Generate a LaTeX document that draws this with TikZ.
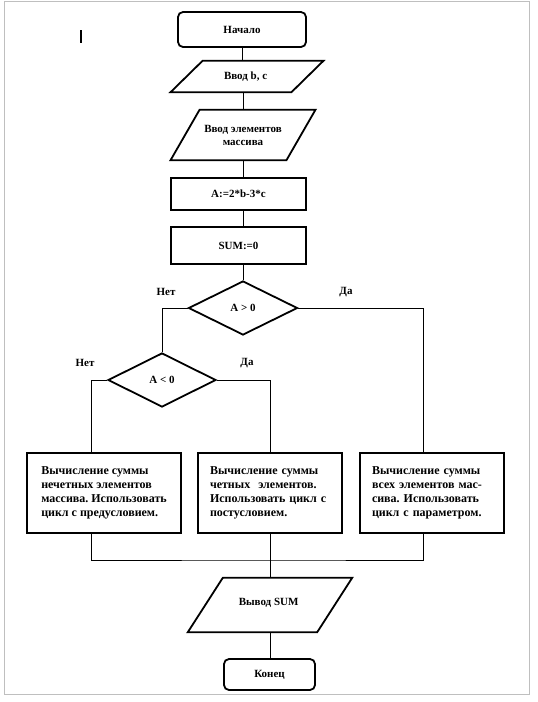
\documentclass[tikz,border=0pt]{standalone}
\usepackage{fontspec}
\setmainfont{Liberation Serif}
\usetikzlibrary{shapes.geometric}

\tikzset{
    lbl/.style={font=\fontsize{11}{13}\selectfont\bfseries, inner sep=0},
    term/.style={lbl, draw, line width=1.8pt, rounded corners=5pt},
    io/.style={lbl, rectangle, align=center},
    proc/.style={lbl, draw, line width=1.8pt, rectangle},
    cond/.style={lbl, draw, line width=1.8pt, diamond},
    calcbox/.style={draw, line width=1.8pt, rectangle, inner sep=0, align=left,
        font=\fontsize{12}{14}\selectfont\bfseries\frenchspacing},
    flow/.style={line width=0.9pt}
}

% parallelogram round an io node: #1 node, #2 half of the slant
\newcommand{\slantbox}[2]{\draw[line width=1.8pt] ([xshift=#2]#1.north west) -- ([xshift=#2]#1.north east)
    -- ([xshift=-#2]#1.south east) -- ([xshift=-#2]#1.south west) -- cycle;}

\begin{document}
\begin{tikzpicture}[x=1pt,y=-1pt]
        \useasboundingbox (0,0) rectangle (538,702);
        \draw[gray!50] (4,1) rectangle (529,694);
        \draw[line width=2.4pt] (81,30) -- (81,43);

        \node[term, minimum width=128pt, minimum height=35pt] (start) at (242, 29.5) { \raisebox{-2pt}{Начало} };
        \node[io, minimum width=120.5pt, minimum height=31pt] (inbc) at (247, 76.5) { Ввод b, c };
        \node[io, minimum width=115.5pt, minimum height=50pt] (inarr) at (243, 135) { Ввод элементов\\массива };
        \node[proc, minimum width=135pt, minimum height=32pt] (asgA) at (238.5, 194) { \raisebox{-2pt}{A:=2*b-3*c} };
        \node[proc, minimum width=135pt, minimum height=37pt] (asgS) at (238.5, 245.5) { SUM:=0 };
        \slantbox{inbc}{16pt}
        \slantbox{inarr}{14.5pt}

        \node[cond, minimum width=109pt, minimum height=54pt] (ifpos) at (243, 308) { A > 0 };
        \node[cond, minimum width=108pt, minimum height=54pt] (ifneg) at (162, 380) { A < 0 };

        \node[lbl] (nopos) at (166, 292) { Нет };
        \node[lbl] (yespos) at (346, 292) { Да };
        \node[lbl] (noneg) at (85, 363) { Нет };
        \node[lbl] (yesneg) at (247, 363) { Да };

        \node[calcbox, minimum width=154pt, minimum height=80pt] (sumodd) at (104, 493) { Вычисление суммы\\нечетных элементов\\массива. Использовать\\цикл с предусловием. };
        \node[calcbox, minimum width=144pt, minimum height=80pt, text width=120pt] (sumeven) at (270, 493) { Вычисление суммы\\четных\ \ элементов.\\Использовать цикл с\\постусловием. };
        \node[calcbox, minimum width=144pt, minimum height=80pt, text width=120pt] (sumall) at (432, 493) { Вычисление суммы\\всех элементов мас-\\сива. Использовать\\цикл с параметром. };

        \node[io, minimum width=129pt, minimum height=54pt] (outS) at (270, 605) { \raisebox{7pt}{Вывод SUM} };
        \node[term, minimum width=91pt, minimum height=31pt] (stop) at (269.5, 674.5) { \raisebox{-3pt}{Конец} };
        \slantbox{outS}{17.5pt}

        \coordinate (join) at (270, 560);

        \draw[flow] (start) -- (start |- inbc.north);
        \draw[flow] (inarr |- inbc.south) -- (inarr);
        \draw[flow] (inarr) -- (inarr |- asgA.north);
        \draw[flow] (inarr |- asgA.south) -- (inarr |- asgS.north);
        \draw[flow] (ifpos |- asgS.south) -- (ifpos);
        \draw[flow] (ifpos.west) -| (ifneg.north);
        \draw[flow] (ifpos.east) -| ([xshift=-9pt]sumall.north);
        \draw[flow] (ifneg.west) -| ([xshift=-13pt]sumodd.north);
        \draw[flow] (ifneg.east) -| (sumeven.north);
        \draw[flow] ([xshift=-13pt]sumodd.south) |- (join) -| ([xshift=-9pt]sumall.south);
        \draw[flow] (sumeven) -- (outS);
        \draw[flow] (outS) -- (outS |- stop.north);

    \end{tikzpicture}
\end{document}
